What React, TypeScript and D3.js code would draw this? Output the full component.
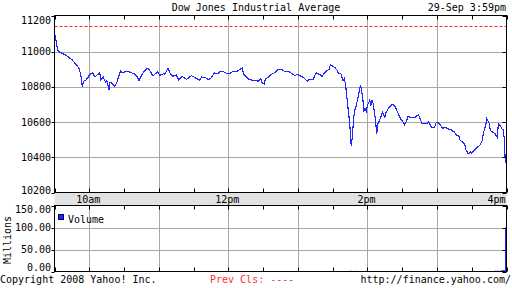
import React from "react";
import * as d3 from "d3";

// ---- data ----
const minutes: number[] = [
  0, 1, 2, 3, 4, 6, 9, 12, 15, 17, 19, 21, 22, 23, 24, 25, 27, 29, 31, 33, 35, 37, 39, 40, 42, 44, 45, 47, 48, 50,
  52, 54, 56, 57, 59, 62, 64, 67, 69, 71, 73, 75, 77, 80, 81, 83, 85, 87, 89, 91, 94, 95, 98, 100, 102, 105, 107, 110, 114, 118,
  123, 125, 127, 130, 133, 135, 138, 141, 143, 145, 148, 151, 154, 158, 162, 163, 166, 168, 171, 176, 178, 179, 181, 182, 184, 187, 190, 193, 196, 199,
  202, 204, 207, 210, 213, 216, 218, 220, 223, 225, 226, 229, 231, 233, 235, 237, 238, 240, 242, 244, 245, 247, 248, 249, 250, 251, 252, 253, 254, 255,
  256, 257, 258, 259, 260, 262, 263, 264, 265, 266, 267, 268, 269, 270, 272, 273, 274, 275, 276, 277, 278, 279, 281, 282, 283, 285, 286, 288, 290, 292,
  294, 296, 299, 301, 302, 304, 305, 308, 311, 314, 315, 317, 321, 323, 325, 328, 329, 331, 333, 335, 337, 339, 342, 345, 347, 349, 350, 352, 354, 355,
  357, 359, 360, 362, 365, 367, 369, 370, 372, 373, 375, 376, 378, 380, 382, 383, 385, 386, 387, 388, 389,
];
const prices: number[] = [
  11102, 11073, 11035, 11007, 10999, 10991, 10982, 10969, 10954, 10940, 10922, 10908, 10884, 10855, 10802, 10832, 10836, 10855, 10874, 10878, 10855, 10869, 10878, 10842, 10855, 10827, 10836, 10785, 10827, 10818,
  10804, 10827, 10874, 10888, 10878, 10889, 10886, 10878, 10874, 10859, 10836, 10865, 10884, 10906, 10903, 10884, 10861, 10874, 10884, 10865, 10874, 10870, 10906, 10874, 10859, 10866, 10840, 10859, 10842, 10863,
  10846, 10836, 10855, 10852, 10840, 10849, 10878, 10874, 10888, 10889, 10878, 10874, 10888, 10889, 10908, 10874, 10855, 10842, 10836, 10832, 10846, 10823, 10814, 10846, 10852, 10870, 10880, 10899, 10897, 10886,
  10889, 10878, 10865, 10869, 10859, 10846, 10832, 10842, 10840, 10870, 10878, 10869, 10859, 10880, 10893, 10897, 10926, 10918, 10908, 10893, 10874, 10878, 10855, 10836, 10846, 10818, 10761, 10694, 10638, 10562,
  10467, 10514, 10619, 10666, 10685, 10741, 10780, 10811, 10780, 10732, 10666, 10676, 10660, 10694, 10723, 10694, 10723, 10704, 10656, 10609, 10534, 10590, 10619, 10638, 10656, 10628, 10653, 10676, 10694, 10700,
  10685, 10656, 10613, 10599, 10585, 10609, 10632, 10624, 10624, 10643, 10628, 10594, 10590, 10603, 10571, 10571, 10594, 10599, 10581, 10562, 10571, 10562, 10556, 10543, 10524, 10520, 10495, 10486, 10473, 10443,
  10420, 10429, 10423, 10439, 10457, 10467, 10495, 10534, 10581, 10619, 10594, 10552, 10543, 10534, 10514, 10590, 10575, 10562, 10556, 10514, 10366,
];
const prevClose = 11143;

const volumeMinutes: number[] = [0, 254, 255, 256, 260, 380, 382, 384, 385, 386, 387, 388, 389];
const volumeValues: number[] = [6, 1.5, 1.5, 1.5, 1.5, 2, 2.5, 2, 2.5, 3, 3, 3, 100];

const priceTicks: number[] = [10200, 10400, 10600, 10800, 11000, 11200];
const volumeTicks: number[] = [0, 50, 100, 150];
const hourMinutes: number[] = [30, 90, 150, 210, 270, 330, 390];
const halfHourMinutes: number[] = d3.range(0, 391, 30);
const timeLabelMinutes: number[] = [30, 150, 270, 390];
const timeLabels: string[] = ["10am", "12pm", "2pm", "4pm"];

const title = "Dow Jones Industrial Average";
const stamp = "29-Sep 3:59pm";

// ---- layout ----
const W = 512, H = 288;
const L = 54.5, R = 506.5;
const PT = 15.5, PB = 192.5;
const BAND_B = 205.5, VB = 271.5;
const FONT = "'DejaVu Sans Mono', monospace";
const BLUE = "#2424ff";
const GRID = "#a8a8a8";

export default function App() {
  const x = d3.scaleLinear().domain([0, 390]).range([L, R]);
  const y = d3.scaleLinear().domain([10200, 11200]).range([PB, 16.3]);
  const yv = d3.scaleLinear().domain([0, 150]).range([VB, BAND_B]);

  const line = d3
    .line<number>()
    .x((_, i) => x(minutes[i]))
    .y((d) => y(d));

  const px = (v: number) => Math.round(v) + 0.5;

  return (
    <svg
      width={W}
      height={H}
      style={{ position: "absolute", left: 0, top: 0, background: "#fff" }}
      fontFamily={FONT}
      fontSize={10}
    >
      <rect x={0} y={0} width={W} height={H} fill="#fff" />
      {/* header */}
      <text x={256} y={11} textAnchor="middle">{title}</text>
      <text x={506} y={11} textAnchor="end">{stamp}</text>

      {/* price grid */}
      {priceTicks.slice(1, -1).map((t) => (
        <line key={"pg" + t} x1={L} x2={R} y1={px(y(t))} y2={px(y(t))} stroke={GRID} />
      ))}
      {hourMinutes.slice(0, -1).map((m) => (
        <line key={"vg" + m} x1={px(x(m))} x2={px(x(m))} y1={PT} y2={PB} stroke={GRID} />
      ))}
      {/* volume grid */}
      {volumeTicks.slice(1, -1).map((t) => (
        <line key={"vvg" + t} x1={L} x2={R} y1={px(yv(t))} y2={px(yv(t))} stroke={GRID} />
      ))}
      {hourMinutes.slice(0, -1).map((m) => (
        <line key={"vvx" + m} x1={px(x(m))} x2={px(x(m))} y1={BAND_B} y2={VB} stroke={GRID} />
      ))}

      {/* prev close */}
      <line x1={L} x2={R} y1={px(y(prevClose))} y2={px(y(prevClose))} stroke="#ff2020" strokeDasharray="3,2" />

      {/* time band */}
      <rect x={L} y={PB} width={R - L} height={BAND_B - PB} fill="#e2e2e2" />

      {/* price line */}
      <path d={line(prices) || ""} fill="none" stroke={BLUE} strokeWidth={1.15} shapeRendering="crispEdges" />

      {/* volume bars */}
      {volumeMinutes.map((m, i) => (
        <rect
          key={"vb" + i}
          x={Math.round(x(m))}
          y={yv(volumeValues[i])}
          width={1}
          height={VB - yv(volumeValues[i])}
          fill={BLUE}
        />
      ))}

      {/* frames */}
      <rect x={L} y={PT} width={R - L} height={PB - PT} fill="none" stroke="#000" />
      <rect x={L} y={BAND_B} width={R - L} height={VB - BAND_B} fill="none" stroke="#000" />

      {/* half hour ticks */}
      {halfHourMinutes.map((m) => (
        <g key={"hh" + m} stroke="#000">
          <line x1={px(x(m))} x2={px(x(m))} y1={PT} y2={PT + 4} />
          <line x1={px(x(m))} x2={px(x(m))} y1={PB - 4} y2={PB} />
          <line x1={px(x(m))} x2={px(x(m))} y1={BAND_B} y2={BAND_B + 4} />
          <line x1={px(x(m))} x2={px(x(m))} y1={VB - 4} y2={VB} />
        </g>
      ))}
      {/* y ticks */}
      {priceTicks.map((t) => (
        <g key={"yt" + t} stroke="#000">
          <line x1={L - 3} x2={L} y1={px(y(t))} y2={px(y(t))} />
          <line x1={R - 4} x2={R} y1={px(y(t))} y2={px(y(t))} />
        </g>
      ))}
      {volumeTicks.map((t) => (
        <g key={"vt" + t} stroke="#000">
          <line x1={L - 3} x2={L} y1={px(yv(t))} y2={px(yv(t))} />
          <line x1={R - 4} x2={R} y1={px(yv(t))} y2={px(yv(t))} />
        </g>
      ))}

      {/* y labels */}
      {priceTicks.map((t) => (
        <text key={"yl" + t} x={51} y={Math.max(20, Math.min(y(t), 190.5)) + 3.6} textAnchor="end">
          {t}
        </text>
      ))}
      {volumeTicks.map((t) => (
        <text key={"vl" + t} x={51} y={Math.max(209.5, Math.min(yv(t), 267.8)) + 3.6} textAnchor="end">
          {t.toFixed(2)}
        </text>
      ))}
      <text x={11} y={240} textAnchor="middle" transform="rotate(-90 11 240)">Millions</text>

      {/* time labels */}
      {timeLabelMinutes.map((m, i) => (
        <text
          key={"tl" + m}
          x={i === timeLabelMinutes.length - 1 ? R - 1 : x(m) - 1}
          y={202.5}
          textAnchor={i === timeLabelMinutes.length - 1 ? "end" : "middle"}
        >
          {timeLabels[i]}
        </text>
      ))}

      {/* legend */}
      <rect x={58.5} y={214.5} width={5} height={5} fill={BLUE} stroke="#000060" />
      <text x={68} y={222.5}>Volume</text>

      {/* footer */}
      <text x={0} y={283}>Copyright 2008 Yahoo! Inc.</text>
      <text x={210} y={283} fill="#ff3030">Prev Cls: ----</text>
      <text x={511} y={283} textAnchor="end">http://finance.yahoo.com/</text>
    </svg>
  );
}
